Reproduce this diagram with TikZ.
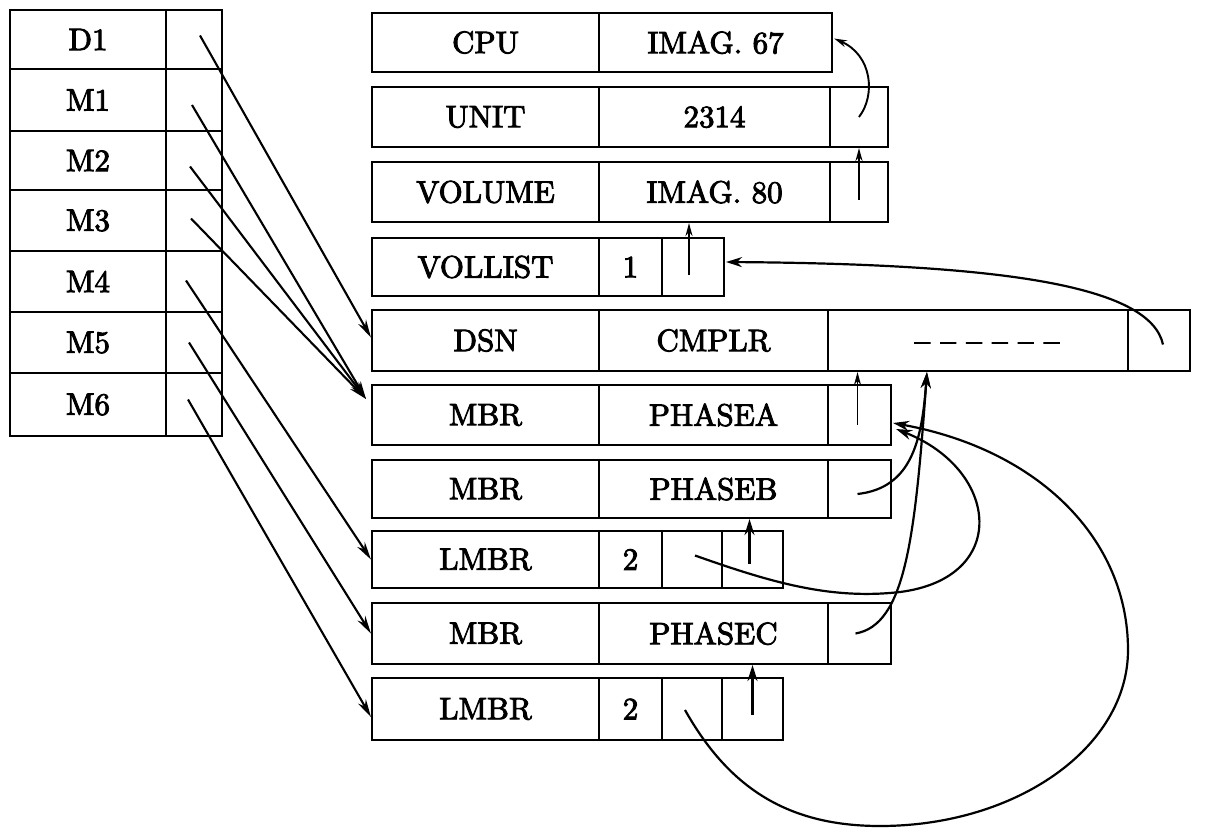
\documentclass[tikz,border=0pt]{standalone}
\usepackage{fontspec}
\usetikzlibrary{arrows.meta,calc}
\newfontfamily\recfont{lmroman10-regular.otf}[FakeBold=3]
\newcommand\recbox[6]{%
  \pgfmathsetmacro\cw{#3-#2}\pgfmathsetmacro\ch{#5-#4}%
  \pgfmathsetmacro\cx{(#2+#3)/2}\pgfmathsetmacro\cy{(#4+#5)/2}%
  \node[cell, minimum width=\cw pt, minimum height=\ch pt] (#1) at (\cx,\cy) {#6};}
\begin{document}
\begin{tikzpicture}[x=1pt,y=-1pt,
  cell/.style={draw, line width=2.1pt, inner sep=0pt, font=\recfont\fontsize{31}{31}\selectfont},
  arr/.style={line width=2.1pt, -{Stealth[length=18pt,width=9pt]}},
  sarr/.style={line width=1.9pt, -{Stealth[length=13pt,width=7pt]}},
  tarr/.style={line width=2.2pt, -{Stealth[length=16pt,width=10pt]}},
  dashtext/.style={inner sep=0pt, font=\recfont\fontsize{31}{31}\selectfont}]
\useasboundingbox (0,0) rectangle (1205,829);
% left table
\recbox{lD1}{10}{166}{10}{69}{D1}   \recbox{pD1}{166}{222}{10}{69}{}
\recbox{lM1}{10}{166}{69}{131}{M1}  \recbox{pM1}{166}{222}{69}{131}{}
\recbox{lM2}{10}{166}{131}{190}{M2} \recbox{pM2}{166}{222}{131}{190}{}
\recbox{lM3}{10}{166}{190}{251}{M3} \recbox{pM3}{166}{222}{190}{251}{}
\recbox{lM4}{10}{166}{251}{312}{M4} \recbox{pM4}{166}{222}{251}{312}{}
\recbox{lM5}{10}{166}{312}{373}{M5} \recbox{pM5}{166}{222}{312}{373}{}
\recbox{lM6}{10}{166}{373}{436}{M6} \recbox{pM6}{166}{222}{373}{436}{}
% right records
\recbox{cpuL}{372}{599}{13}{72}{CPU} \recbox{cpuV}{599}{832}{13}{72}{IMAG. 67}
\recbox{uL}{372}{599}{87}{147}{UNIT} \recbox{uV}{599}{830}{87}{147}{2314} \recbox{uP}{830}{888}{87}{147}{}
\recbox{vL}{372}{599}{162}{222}{VOLUME} \recbox{vV}{599}{830}{162}{222}{IMAG. 80} \recbox{vP}{830}{888}{162}{222}{}
\recbox{vlL}{372}{599}{238}{296}{VOLLIST} \recbox{vlN}{599}{662}{238}{296}{1} \recbox{vlP}{662}{724}{238}{296}{}
\recbox{dsnL}{372}{599}{310}{371}{DSN} \recbox{dsnC}{599}{828}{310}{371}{CMPLR} \recbox{dsnD}{828}{1128}{310}{371}{} \recbox{dsnP}{1128}{1190}{310}{371}{}
\node[dashtext] (dashes) at (987,347) {\textendash{} \textendash{} \textendash{} \textendash{} \textendash{} \textendash};
\recbox{paL}{372}{599}{385}{445}{MBR} \recbox{paV}{599}{828}{385}{445}{PHASEA} \recbox{paP}{828}{891}{385}{445}{}
\recbox{pbL}{372}{599}{460}{518}{MBR} \recbox{pbV}{599}{828}{460}{518}{PHASEB} \recbox{pbP}{828}{891}{460}{518}{}
\recbox{l1L}{372}{599}{531}{588}{LMBR} \recbox{l1N}{599}{662}{531}{588}{2} \recbox{l1M}{662}{722}{531}{588}{} \recbox{l1P}{722}{783}{531}{588}{}
\recbox{pcL}{372}{599}{603}{664}{MBR} \recbox{pcV}{599}{828}{603}{664}{PHASEC} \recbox{pcP}{828}{891}{603}{664}{}
\recbox{l2L}{372}{599}{678}{740}{LMBR} \recbox{l2N}{599}{662}{678}{740}{2} \recbox{l2M}{662}{722}{678}{740}{} \recbox{l2P}{722}{783}{678}{740}{}
\coordinate (dsnIn) at ($(dsnD.south west)+(100,0)$);
% arrows from the left table
\draw[arr] ($(pD1.center)+(6,-4)$) -- ($(dsnL.west)+(0,-3)$);
\draw[arr] ($(pM1.center)+(-2,5)$) -- ($(paL.north west)+(-5,15)$);
\draw[arr] ($(pM2.center)+(-4,6)$) -- ($(paL.north west)+(-5,15)$);
\draw[arr] ($(pM3.center)+(-3,-2)$) -- ($(paL.north west)+(-5,15)$);
\draw[arr] ($(pM4.center)+(-8,-1)$) -- (l1L.west);
\draw[arr] ($(pM5.center)+(-5,0)$) -- (pcL.west);
\draw[arr] ($(pM6.center)+(-6,-5)$) -- ($(l2L.west)+(0,8)$);
% internal pointers
\draw[sarr] (uP.center) .. controls (876,95) and (872,55) .. ($(cpuV.east)+(1,-4)$);
\draw[sarr] ($(vP.center)+(0,8)$) -- (uP.south);
\draw[sarr] ($(vlP.center)+(-4,8)$) -- ($(vlP.center |- vV.south)+(-4,0)$);
\draw[tarr] ($(dsnP.center)+(4,4)$) .. controls (1150,285) and (1000,264) .. ($(vlP.east)+(1,-5)$);
\draw[sarr] ($(paP.center)+(-2,10)$) -- ($(paP.center |- dsnD.south)+(-2,0)$);
\draw[tarr] ($(pbP.center)+(-2,5)$) .. controls (912,488) and (922,440) .. (dsnIn);
\draw[tarr] ($(pcP.center)+(-4,0)$) .. controls (905,625) and (915,540) .. (dsnIn);
\draw[tarr] ($(l1P.center)+(-3,4)$) -- ($(l1P.center |- pbV.south)+(-3,0)$);
\draw[tarr] ($(l1M.center)+(3,-4)$) .. controls (770,582) and (830,600) .. (900,592)
   .. controls (1010,578) and (1000,470) .. ($(paP.east)+(4,14)$);
\draw[tarr] ($(l2P.center)+(0,6)$) -- (l2P.center |- pcV.south);
\draw[tarr] ($(l2M.center)+(-7,1)$) .. controls (730,790) and (790,826) .. (880,826)
   .. controls (1017,826) and (1128,747) .. (1128,650)
   .. controls (1128,540) and (1040,450) .. ($(paP.east)+(1,8)$);
\end{tikzpicture}
\end{document}
